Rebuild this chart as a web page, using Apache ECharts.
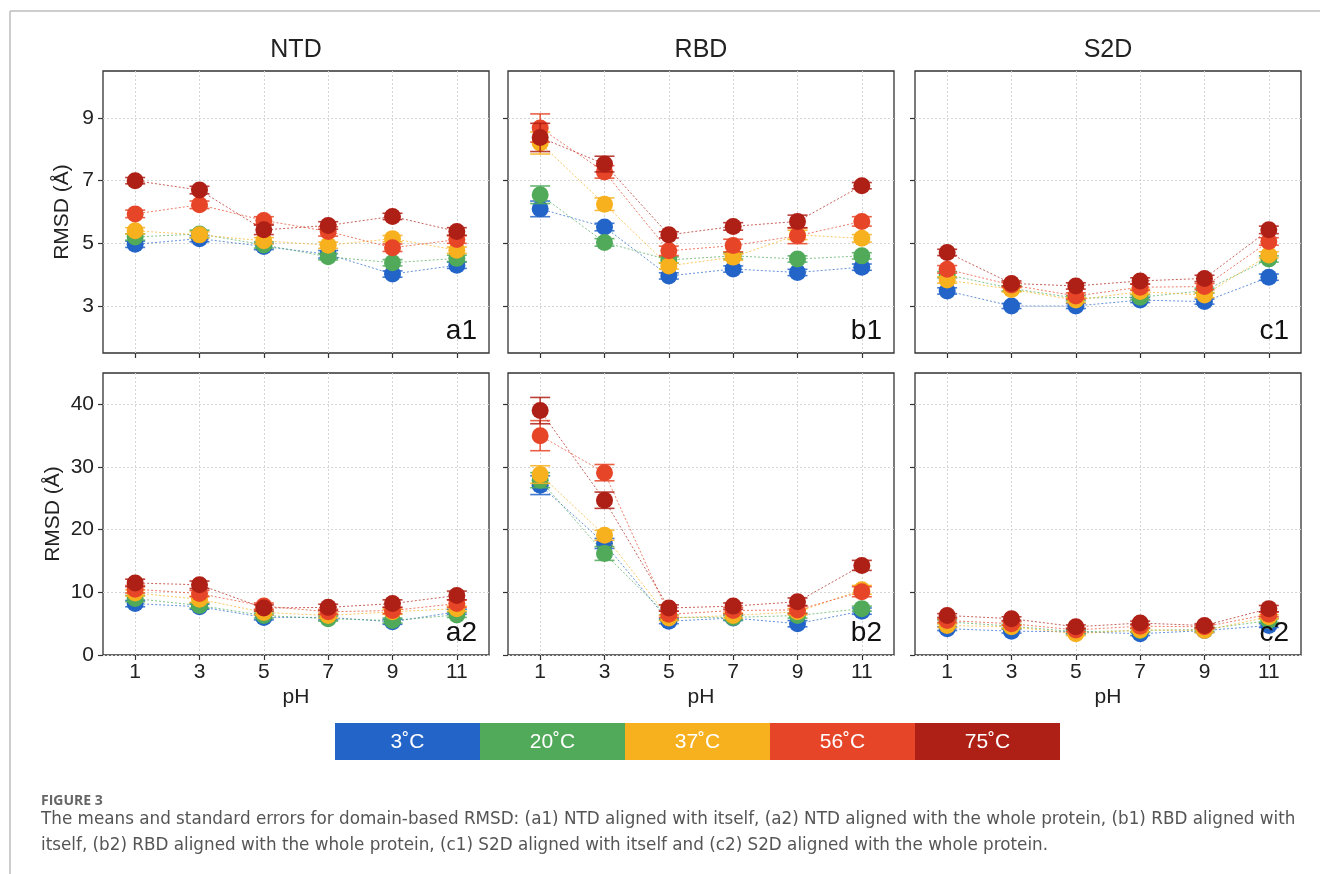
<!DOCTYPE html>
<html>
<head>
<meta charset="utf-8">
<script src="https://cdn.jsdelivr.net/npm/echarts@6/dist/echarts.min.js"></script>
<style>
  html, body { margin: 0; padding: 0; background: #fff; }
  #chart { width: 1320px; height: 874px; }
</style>
</head>
<body>
<div id="chart"></div>
<script>
// pH values and tick labels
const phValues = [1, 3, 5, 7, 9, 11];
const topTicks = [3, 5, 7, 9];
const bottomTicks = [0, 10, 20, 30, 40];
const domains = ["NTD", "RBD", "S2D"];
const panelNames = ["a1", "b1", "c1", "a2", "b2", "c2"];
const temps = ["3˚C", "20˚C", "37˚C", "56˚C", "75˚C"];
const colors = ["#2364c8", "#50aa5a", "#f7b01e", "#e64528", "#ae1f15"];

// means per temperature (rows) at each pH (columns)
const a1Mean = [
  [4.97, 5.15, 4.90, 4.65, 4.02, 4.30],
  [5.20, 5.30, 4.95, 4.57, 4.38, 4.52],
  [5.40, 5.27, 5.08, 4.94, 5.15, 4.78],
  [5.94, 6.23, 5.73, 5.38, 4.86, 5.12],
  [7.00, 6.70, 5.43, 5.57, 5.86, 5.38],
];
const a1Err = [
  [0.10, 0.10, 0.10, 0.12, 0.10, 0.10],
  [0.10, 0.12, 0.10, 0.10, 0.10, 0.10],
  [0.10, 0.10, 0.10, 0.10, 0.10, 0.10],
  [0.12, 0.12, 0.12, 0.15, 0.12, 0.12],
  [0.10, 0.12, 0.15, 0.12, 0.10, 0.12],
];
const b1Mean = [
  [6.10, 5.52, 3.96, 4.18, 4.07, 4.24],
  [6.55, 5.03, 4.47, 4.60, 4.50, 4.60],
  [8.20, 6.25, 4.28, 4.56, 5.27, 5.16],
  [8.68, 7.28, 4.76, 4.93, 5.24, 5.70],
  [8.38, 7.53, 5.27, 5.54, 5.70, 6.84],
];
const b1Err = [
  [0.25, 0.12, 0.10, 0.10, 0.10, 0.10],
  [0.28, 0.12, 0.10, 0.10, 0.10, 0.10],
  [0.35, 0.20, 0.10, 0.10, 0.15, 0.12],
  [0.45, 0.20, 0.15, 0.20, 0.25, 0.15],
  [0.45, 0.25, 0.10, 0.12, 0.20, 0.10],
];
const c1Mean = [
  [3.48, 3.00, 3.00, 3.19, 3.14, 3.92],
  [4.00, 3.56, 3.25, 3.28, 3.49, 4.50],
  [3.83, 3.53, 3.19, 3.46, 3.35, 4.63],
  [4.17, 3.67, 3.32, 3.60, 3.62, 5.06],
  [4.71, 3.72, 3.64, 3.80, 3.88, 5.43],
];
const c1Err = [
  [0.10, 0.08, 0.08, 0.08, 0.08, 0.10],
  [0.10, 0.08, 0.08, 0.08, 0.08, 0.10],
  [0.10, 0.08, 0.08, 0.08, 0.08, 0.10],
  [0.12, 0.08, 0.10, 0.10, 0.10, 0.12],
  [0.10, 0.08, 0.10, 0.10, 0.10, 0.12],
];
const a2Mean = [
  [8.2, 7.7, 6.0, 6.0, 5.3, 6.9],
  [9.0, 7.9, 6.3, 5.8, 5.5, 6.4],
  [9.9, 8.9, 6.8, 6.3, 6.9, 7.4],
  [10.5, 9.8, 7.8, 6.9, 7.1, 8.2],
  [11.5, 11.2, 7.5, 7.6, 8.2, 9.5],
];
const a2Err = [
  [0.5, 0.4, 0.4, 0.4, 0.4, 0.4],
  [0.5, 0.4, 0.4, 0.4, 0.4, 0.4],
  [0.5, 0.5, 0.4, 0.4, 0.4, 0.4],
  [0.6, 0.5, 0.5, 0.4, 0.5, 0.6],
  [0.6, 0.6, 0.5, 0.5, 0.6, 0.7],
];
const b2Mean = [
  [27.1, 17.8, 5.4, 5.9, 5.0, 7.0],
  [27.9, 16.2, 6.0, 6.0, 6.3, 7.4],
  [28.8, 19.1, 5.9, 6.3, 6.9, 10.4],
  [35.0, 29.1, 6.5, 7.1, 7.2, 10.1],
  [39.0, 24.7, 7.5, 7.8, 8.5, 14.3],
];
const b2Err = [
  [1.5, 0.8, 0.4, 0.4, 0.5, 0.5],
  [1.2, 1.1, 0.4, 0.4, 0.4, 0.4],
  [1.4, 0.8, 0.4, 0.4, 0.5, 0.7],
  [2.4, 1.3, 0.5, 0.5, 0.6, 0.8],
  [2.1, 1.3, 0.5, 0.5, 0.6, 0.8],
];
const c2Mean = [
  [4.2, 3.8, 3.7, 3.4, 3.9, 4.7],
  [5.3, 4.6, 3.7, 3.9, 4.1, 5.5],
  [4.7, 4.5, 3.4, 4.0, 3.9, 6.1],
  [5.5, 5.0, 4.0, 4.6, 4.5, 6.5],
  [6.3, 5.8, 4.5, 5.1, 4.7, 7.4],
];
const c2Err = [
  [0.3, 0.3, 0.3, 0.3, 0.3, 0.3],
  [0.3, 0.3, 0.3, 0.3, 0.3, 0.3],
  [0.3, 0.3, 0.3, 0.3, 0.3, 0.3],
  [0.3, 0.3, 0.3, 0.3, 0.3, 0.4],
  [0.3, 0.3, 0.3, 0.3, 0.3, 0.5],
];

const panelMeans = [a1Mean, b1Mean, c1Mean, a2Mean, b2Mean, c2Mean];
const panelErrs = [a1Err, b1Err, c1Err, a2Err, b2Err, c2Err];

const FONT = "Liberation Sans, Arial, sans-serif";
const CAPTION_FONT = "DejaVu Sans, sans-serif";
const colLeft = [103, 508, 915];
const rowTop = [71, 373];
const gridW = 386;
const gridH = 282;

function renderErrorBar(params, api) {
  const x = api.value(0);
  const top = api.coord([x, api.value(2)]);
  const bot = api.coord([x, api.value(1)]);
  const w = 10;
  const style = { stroke: api.visual("color"), lineWidth: 1.6, opacity: 0.85 };
  return {
    type: "group",
    children: [
      { type: "line", shape: { x1: top[0], y1: top[1], x2: bot[0], y2: bot[1] }, style },
      { type: "line", shape: { x1: top[0] - w, y1: top[1], x2: top[0] + w, y2: top[1] }, style },
      { type: "line", shape: { x1: bot[0] - w, y1: bot[1], x2: bot[0] + w, y2: bot[1] }, style },
    ],
  };
}

const grids = [];
const xAxes = [];
const yAxes = [];
const series = [];
const graphics = [];

panelNames.forEach((name, p) => {
  const row = p < 3 ? 0 : 1;
  const col = p % 3;
  const left = colLeft[col];
  const top = rowTop[row];
  grids.push({
    left, top, width: gridW, height: gridH,
    show: true, borderColor: "#333", borderWidth: 1.3, backgroundColor: "transparent",
  });
  xAxes.push({
    gridIndex: p, type: "value", min: 0, max: 12,
    name: row === 1 ? "pH" : "", nameLocation: "middle", nameGap: 32,
    nameTextStyle: { fontFamily: FONT, fontSize: 21, color: "#222" },
    axisLine: { show: false },
    axisTick: { show: true, length: 5, lineStyle: { color: "#333", width: 1.2 }, customValues: phValues },
    axisLabel: { show: row === 1, customValues: phValues, fontFamily: FONT, fontSize: 21, color: "#222", margin: 7 },
    splitLine: { show: true, lineStyle: { color: "#d4d4d4", type: [2, 2], width: 1 } },
  });
  const ticks = row === 0 ? topTicks : bottomTicks;
  yAxes.push({
    gridIndex: p, type: "value",
    min: row === 0 ? 1.5 : 0, max: row === 0 ? 10.5 : 45,
    name: col === 0 ? "RMSD (Å)" : "", nameLocation: "middle", nameGap: row === 0 ? 30 : 39,
    nameTextStyle: { fontFamily: FONT, fontSize: 21, color: "#222" },
    axisLine: { show: false },
    axisTick: { show: true, length: 5, lineStyle: { color: "#333", width: 1.2 }, customValues: ticks },
    axisLabel: { show: col === 0, customValues: ticks, fontFamily: FONT, fontSize: 21, color: "#222", margin: 9 },
    splitLine: { show: true, lineStyle: { color: "#d4d4d4", type: [2, 2], width: 1 } },
  });

  const means = panelMeans[p];
  const errs = panelErrs[p];
  temps.forEach((t, i) => {
    const pts = phValues.map((ph, k) => [ph, means[i][k]]);
    const bars = phValues.map((ph, k) => [ph, means[i][k] - errs[i][k], means[i][k] + errs[i][k]]);
    series.push({
      type: "custom", name: t, xAxisIndex: p, yAxisIndex: p,
      z: 2 + i * 2, renderItem: renderErrorBar,
      itemStyle: { color: colors[i] }, data: bars, silent: true,
    });
    series.push({
      type: "line", name: t, xAxisIndex: p, yAxisIndex: p,
      z: 3 + i * 2, data: pts,
      symbol: "circle", symbolSize: 17,
      itemStyle: { color: colors[i], opacity: 1 },
      lineStyle: { color: colors[i], width: 1, type: [2, 2], opacity: 0.7 },
      emphasis: { disabled: true }, silent: true,
    });
  });

  // panel tag in the lower right corner, above the markers
  graphics.push({
    type: "text", z: 100, x: left + gridW - 12, y: top + gridH - 8,
    style: { text: name, fontFamily: FONT, fontSize: 28, fill: "#111", align: "right", verticalAlign: "bottom" },
  });
});

const titles = domains.map((d, c) => ({
  text: d, left: colLeft[c] + gridW / 2, top: 38, padding: 0, textAlign: "center",
  textStyle: { fontFamily: FONT, fontSize: 25, fontWeight: "normal", color: "#222" },
}));

// color bar legend
const legLeft = 335;
const legW = 145;
temps.forEach((t, i) => {
  graphics.push({
    type: "rect", shape: { x: legLeft + i * legW, y: 723, width: legW, height: 37 },
    style: { fill: colors[i] },
  });
  graphics.push({
    type: "text", x: legLeft + i * legW + legW / 2, y: 742,
    style: { text: t, fontFamily: FONT, fontSize: 21, fill: "#fff", align: "center", verticalAlign: "middle" },
  });
});

// figure frame and caption
graphics.push(
  { type: "line", shape: { x1: 10, y1: 11, x2: 1320, y2: 11 }, style: { stroke: "#bdbdbd", lineWidth: 1.5 } },
  { type: "line", shape: { x1: 10, y1: 11, x2: 10, y2: 874 }, style: { stroke: "#bdbdbd", lineWidth: 1.5 } },
  {
    type: "text", x: 41, y: 794,
    style: { text: "FIGURE 3", fontFamily: "Open Sans, sans-serif", fontSize: 14, fontWeight: "bold", fill: "#666" },
  },
  {
    type: "text", x: 41, y: 807,
    style: {
      text: "The means and standard errors for domain-based RMSD: (a1) NTD aligned with itself, (a2) NTD aligned with the whole protein, (b1) RBD aligned with\nitself, (b2) RBD aligned with the whole protein, (c1) S2D aligned with itself and (c2) S2D aligned with the whole protein.",
      fontFamily: CAPTION_FONT, fontSize: 16.8, lineHeight: 26, fill: "#555",
    },
  }
);

const chart = echarts.init(document.getElementById("chart"), null, { renderer: "canvas" });
chart.setOption({
  animation: false,
  backgroundColor: "#fff",
  title: titles,
  grid: grids,
  xAxis: xAxes,
  yAxis: yAxes,
  series,
  graphic: graphics,
});
</script>
</body>
</html>
